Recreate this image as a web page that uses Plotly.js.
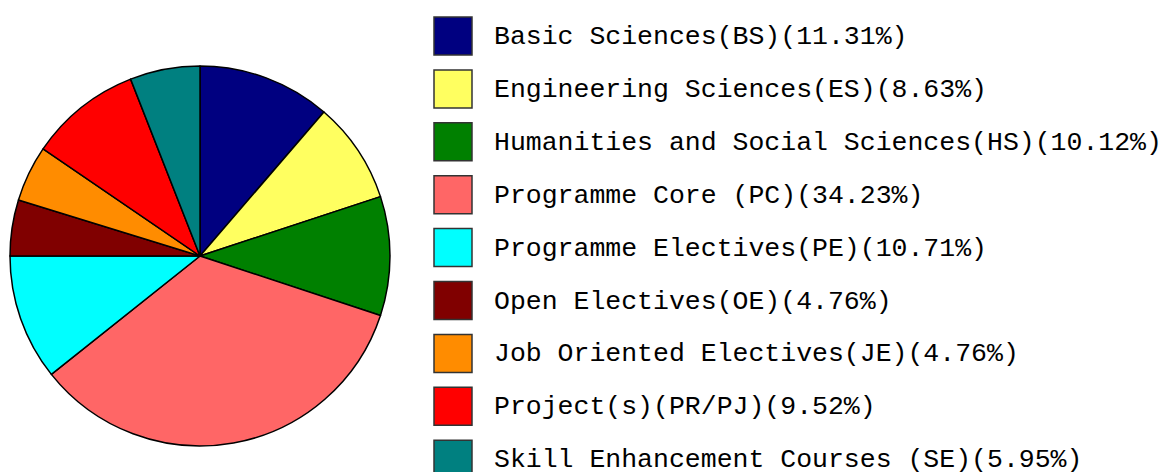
<!DOCTYPE html>
<html>
<head>
<meta charset="utf-8">
<script src="https://cdn.plot.ly/plotly-3.0.1.min.js"></script>
<style>html,body{margin:0;padding:0;background:#fff;}#chart{width:1165px;height:472px;}</style>
</head>
<body>
<div id="chart"></div>
<script>
const categories = [
  "Basic Sciences(BS)",
  "Engineering Sciences(ES)",
  "Humanities and Social Sciences(HS)",
  "Programme Core (PC)",
  "Programme Electives(PE)",
  "Open Electives(OE)",
  "Job Oriented Electives(JE)",
  "Project(s)(PR/PJ)",
  "Skill Enhancement Courses (SE)"
];
const percents = [11.31, 8.63, 10.12, 34.23, 10.71, 4.76, 4.76, 9.52, 5.95];
const colors = ["#000080", "#FFFF60", "#008000", "#FF6666", "#00FFFF", "#800000", "#FF8C00", "#FF0000", "#008080"];

const W = 1165, H = 472;
const cx = 200, cy = 256, r = 190;

const trace = {
  type: "pie",
  values: percents,
  labels: categories,
  sort: false,
  direction: "clockwise",
  rotation: 0,
  textinfo: "none",
  hoverinfo: "label+percent",
  showlegend: false,
  marker: { colors: colors, line: { color: "#000000", width: 1.5 } },
  domain: { x: [(cx - r) / W, (cx + r) / W], y: [(H - cy - r) / H, (H - cy + r) / H] }
};

const shapes = [];
const annotations = [];
const sqX0 = 434, sqSize = 38, top0 = 17, pitch = 52.9, textX = 492;
categories.forEach((c, i) => {
  const t = top0 + i * pitch;
  shapes.push({
    type: "rect", xref: "paper", yref: "paper",
    x0: sqX0 / W, x1: (sqX0 + sqSize) / W,
    y0: 1 - (t + sqSize) / H, y1: 1 - t / H,
    fillcolor: colors[i], line: { color: "#333333", width: 1.5 }
  });
  annotations.push({
    xref: "paper", yref: "paper",
    x: textX / W, y: 1 - (t + sqSize / 2 + 1) / H,
    xanchor: "left", yanchor: "middle",
    text: c + "(" + percents[i].toFixed(2) + "%)",
    showarrow: false,
    font: { family: "Liberation Mono, monospace", size: 26.5, color: "#000000" }
  });
});

const layout = {
  width: W, height: H,
  margin: { l: 0, r: 0, t: 0, b: 0 },
  paper_bgcolor: "#ffffff",
  plot_bgcolor: "#ffffff",
  showlegend: false,
  shapes: shapes,
  annotations: annotations
};

Plotly.newPlot("chart", [trace], layout, { displayModeBar: false, staticPlot: true });
</script>
</body>
</html>
